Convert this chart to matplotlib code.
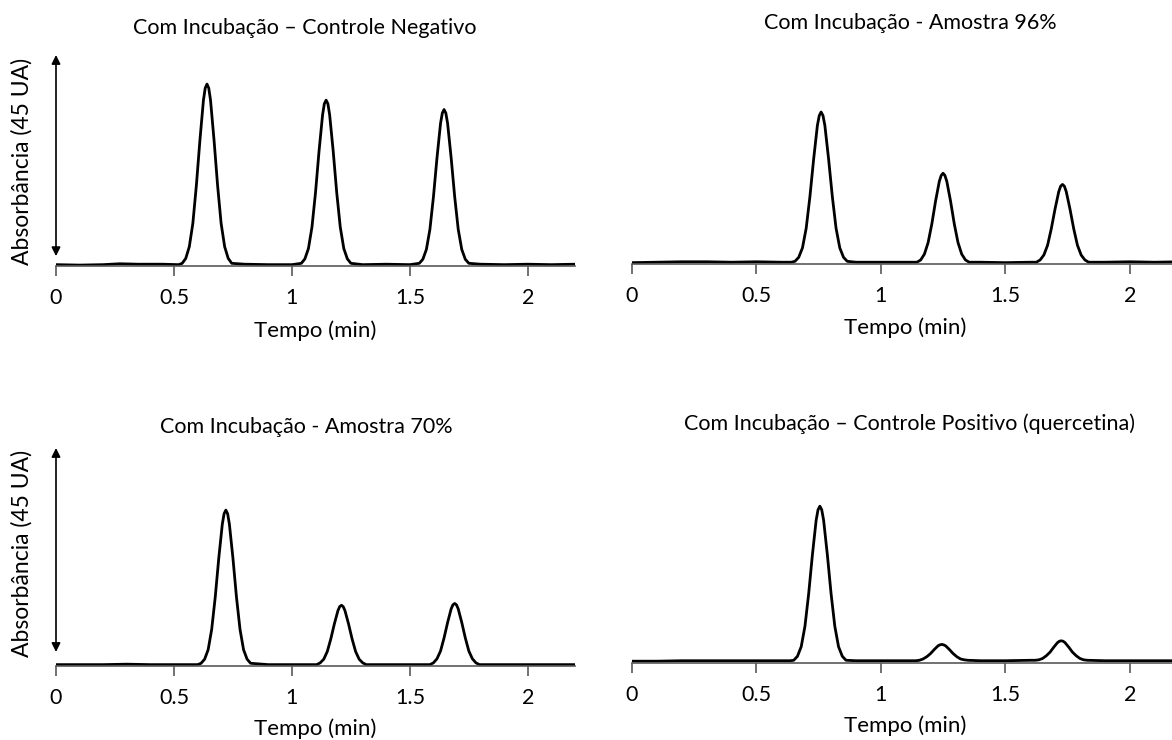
import matplotlib
matplotlib.use('Agg')
import matplotlib.pyplot as plt

plt.rcParams['font.family'] = ['Lato', 'DejaVu Sans']

W, H = 1172, 740

# tempo (min) / absorbancia (UA)
t_neg = [0.0, 0.1, 0.2, 0.27, 0.35, 0.45, 0.52,
         0.535, 0.55, 0.565, 0.58, 0.595, 0.61, 0.625, 0.6325, 0.64, 0.6475, 0.655, 0.67, 0.685, 0.70, 0.715, 0.73, 0.745,
         0.8, 0.9, 1.0,
         1.04, 1.055, 1.07, 1.085, 1.10, 1.115, 1.13, 1.1375, 1.145, 1.1525, 1.16, 1.175, 1.19, 1.205, 1.22, 1.235, 1.25,
         1.3, 1.4, 1.5,
         1.54, 1.555, 1.57, 1.585, 1.60, 1.615, 1.63, 1.6375, 1.645, 1.6525, 1.66, 1.675, 1.69, 1.705, 1.72, 1.735, 1.75,
         1.8, 1.9, 2.0, 2.1, 2.2]
a_neg = [0.1, 0.0, 0.1, 0.3, 0.2, 0.2, 0.1,
         0.4, 1.5, 4.1, 9.3, 17.8, 27.9, 36.9, 39.6, 40.5, 39.6, 36.9, 27.9, 17.8, 9.3, 4.1, 1.5, 0.4,
         0.2, 0.1, 0.1,
         0.4, 1.4, 3.7, 8.5, 16.2, 25.5, 33.6, 36.1, 36.9, 36.1, 33.6, 25.5, 16.2, 8.5, 3.7, 1.4, 0.4,
         0.1, 0.2, 0.1,
         0.4, 1.3, 3.5, 8.0, 15.3, 24.0, 31.7, 34.0, 34.8, 34.0, 31.7, 24.0, 15.3, 8.0, 3.5, 1.3, 0.4,
         0.2, 0.1, 0.2, 0.1, 0.2]

t_96 = [0.0, 0.1, 0.2, 0.3, 0.4, 0.5, 0.6, 0.64,
        0.655, 0.67, 0.685, 0.70, 0.715, 0.73, 0.745, 0.7525, 0.76, 0.7675, 0.775, 0.79, 0.805, 0.82, 0.835, 0.85, 0.865,
        0.9, 1.0, 1.1,
        1.145, 1.16, 1.175, 1.19, 1.205, 1.22, 1.235, 1.2425, 1.25, 1.2575, 1.265, 1.28, 1.295, 1.31, 1.325, 1.34, 1.355,
        1.4, 1.5, 1.6,
        1.625, 1.64, 1.655, 1.67, 1.685, 1.70, 1.715, 1.7225, 1.73, 1.7375, 1.745, 1.76, 1.775, 1.79, 1.805, 1.82, 1.835,
        1.9, 2.0, 2.1, 2.2]
a_96 = [0.1, 0.2, 0.3, 0.3, 0.2, 0.3, 0.2, 0.2,
        0.4, 1.3, 3.4, 7.8, 14.9, 23.3, 30.8, 33.0, 33.8, 33.0, 30.8, 23.3, 14.9, 7.8, 3.4, 1.3, 0.4,
        0.2, 0.2, 0.2,
        0.2, 0.7, 2.0, 4.6, 8.8, 13.9, 18.3, 19.6, 20.1, 19.6, 18.3, 13.9, 8.8, 4.6, 2.0, 0.7, 0.2,
        0.2, 0.1, 0.2,
        0.2, 0.7, 1.8, 4.0, 7.7, 12.1, 16.0, 17.2, 17.6, 17.2, 16.0, 12.1, 7.7, 4.0, 1.8, 0.7, 0.2,
        0.2, 0.3, 0.2, 0.3]

t_70 = [0.0, 0.1, 0.2, 0.3, 0.4, 0.5, 0.6,
        0.615, 0.63, 0.645, 0.66, 0.675, 0.69, 0.705, 0.7125, 0.72, 0.7275, 0.735, 0.75, 0.765, 0.78, 0.795, 0.81, 0.825,
        0.9, 1.0, 1.08,
        1.105, 1.12, 1.135, 1.15, 1.165, 1.18, 1.195, 1.2025, 1.21, 1.2175, 1.225, 1.24, 1.255, 1.27, 1.285, 1.30, 1.315,
        1.4, 1.5, 1.57,
        1.585, 1.60, 1.615, 1.63, 1.645, 1.66, 1.675, 1.6825, 1.69, 1.6975, 1.705, 1.72, 1.735, 1.75, 1.765, 1.78, 1.795,
        1.9, 2.0, 2.1, 2.2]
a_70 = [0.1, 0.1, 0.1, 0.2, 0.1, 0.1, 0.1,
        0.4, 1.3, 3.4, 7.9, 15.0, 23.6, 31.1, 33.4, 34.2, 33.4, 31.1, 23.6, 15.0, 7.9, 3.4, 1.3, 0.4,
        0.1, 0.1, 0.1,
        0.1, 0.5, 1.3, 3.0, 5.8, 9.1, 12.0, 12.9, 13.2, 12.9, 12.0, 9.1, 5.8, 3.0, 1.3, 0.5, 0.1,
        0.1, 0.1, 0.1,
        0.1, 0.5, 1.4, 3.1, 6.0, 9.4, 12.4, 13.3, 13.6, 13.3, 12.4, 9.4, 6.0, 3.1, 1.4, 0.5, 0.1,
        0.1, 0.1, 0.1, 0.1]

t_quer = [0.0, 0.1, 0.2, 0.3, 0.4, 0.5, 0.6, 0.635,
          0.65, 0.665, 0.68, 0.695, 0.71, 0.725, 0.74, 0.7475, 0.755, 0.7625, 0.77, 0.785, 0.80, 0.815, 0.83, 0.845, 0.86,
          0.9, 1.0, 1.1,
          1.14, 1.155, 1.17, 1.185, 1.20, 1.215, 1.23, 1.2375, 1.245, 1.2525, 1.26, 1.275, 1.29, 1.305, 1.32, 1.335, 1.35,
          1.4, 1.5, 1.6,
          1.62, 1.635, 1.65, 1.665, 1.68, 1.695, 1.71, 1.7175, 1.725, 1.7325, 1.74, 1.755, 1.77, 1.785, 1.80, 1.815, 1.83,
          1.9, 2.0, 2.1, 2.2]
a_quer = [0.2, 0.2, 0.3, 0.3, 0.3, 0.3, 0.3, 0.3,
          0.4, 1.3, 3.4, 7.9, 15.1, 23.7, 31.3, 33.6, 34.4, 33.6, 31.3, 23.7, 15.1, 7.9, 3.4, 1.3, 0.4,
          0.3, 0.3, 0.3,
          0.3, 0.4, 0.7, 1.2, 1.9, 2.8, 3.6, 3.8, 3.9, 3.8, 3.6, 2.8, 1.9, 1.2, 0.7, 0.5, 0.4,
          0.3, 0.3, 0.4,
          0.4, 0.5, 0.8, 1.4, 2.2, 3.3, 4.3, 4.6, 4.7, 4.6, 4.3, 3.3, 2.2, 1.4, 0.8, 0.5, 0.4,
          0.3, 0.3, 0.3, 0.3]

titles = ['Com Incubação \u2013 Controle Negativo',
          'Com Incubação - Amostra 96%',
          'Com Incubação - Amostra 70%',
          'Com Incubação \u2013 Controle Positivo (quercetina)']
xticks = [0, 0.5, 1, 1.5, 2]
xtick_labels = ['0', '0.5', '1', '1.5', '2']

AX_COLOR = '#595959'
FS = 15.5


def px_axes(fig, left, top, right, bottom):
    return fig.add_axes([left / W, 1 - bottom / H, (right - left) / W, (bottom - top) / H])


def style(ax, xmax, ymin, ymax):
    ax.set_xlim(0, xmax)
    ax.set_ylim(ymin, ymax)
    for s in ['top', 'right', 'left']:
        ax.spines[s].set_visible(False)
    ax.spines['bottom'].set_color(AX_COLOR)
    ax.spines['bottom'].set_linewidth(1.2)
    ax.set_yticks([])
    ax.set_xticks(xticks)
    ax.set_xticklabels(xtick_labels)
    ax.tick_params(axis='x', direction='out', length=7, width=1.2, color=AX_COLOR,
                   pad=9, labelsize=FS, labelcolor='black')
    ax.patch.set_alpha(0)


def arrow(ax, y0, y1):
    ax.annotate('', xy=(0, y1), xytext=(0, y0),
                arrowprops=dict(arrowstyle='<|-|>', color='black', lw=1.2,
                                mutation_scale=13, shrinkA=0, shrinkB=0),
                annotation_clip=False)


fig = plt.figure(figsize=(W / 100, H / 100), dpi=100)

# top left
ax1 = px_axes(fig, 56, 55, 575, 266)
style(ax1, 2.2, -0.2, 47.0)
ax1.plot(t_neg, a_neg, color='black', lw=2.0)
arrow(ax1, 2.0, 47.0)

# top right (cut by the image edge)
ax2 = px_axes(fig, 632, 53, 1172, 264)
style(ax2, 2.17, -0.2, 47.0)
ax2.plot(t_96, a_96, color='black', lw=2.0)

# bottom left
ax3 = px_axes(fig, 56, 448, 575, 666)
style(ax3, 2.2, -0.2, 47.9)
ax3.plot(t_70, a_70, color='black', lw=2.0)
arrow(ax3, 2.9, 47.9)

# bottom right
ax4 = px_axes(fig, 632, 445, 1172, 663)
style(ax4, 2.17, -0.2, 47.9)
ax4.plot(t_quer, a_quer, color='black', lw=2.0)

# titles, axis labels
title_pos = [(305, 28), (910, 23), (306, 427), (910, 424)]
for (x, y), txt in zip(title_pos, titles):
    fig.text(x / W, 1 - y / H, txt, ha='center', va='center', fontsize=FS)

for x, y in [(315, 331), (905, 328), (315, 729), (905, 726)]:
    fig.text(x / W, 1 - y / H, 'Tempo (min)', ha='center', va='center', fontsize=16)

for y in [161, 553]:
    fig.text(22 / W, 1 - y / H, 'Absorbância (45 UA)', ha='center', va='center',
             rotation=90, fontsize=16.5)

fig.savefig('out.png', dpi=100)
